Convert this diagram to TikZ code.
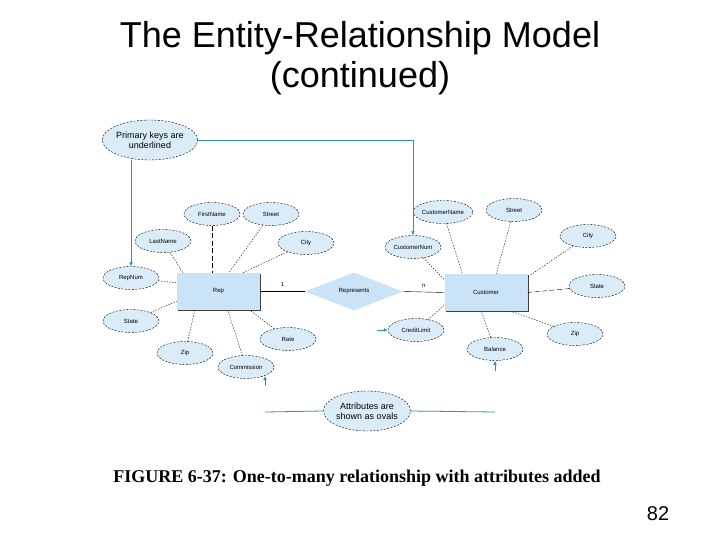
\documentclass[tikz,border=0pt]{standalone}
\usepackage{fontspec}
\setmainfont{Liberation Sans}
\newfontfamily\capfont{Liberation Serif}
\usepackage{tikz}
\usetikzlibrary{shapes.geometric,arrows.meta,shadows}
\definecolor{ovalblue}{RGB}{219,236,249}
\definecolor{boxblue}{RGB}{203,227,246}
\definecolor{noteteal}{RGB}{38,148,190}
\tikzstyle{link} = [thin, dash pattern=on 1.4pt off 1.4pt]
\tikzstyle{longlink} = [thin, dash pattern=on 5pt off 2.5pt]

\begin{document}
\begin{tikzpicture}
  [
    x=1pt, y=-1pt,
    attr/.style={ellipse, draw, dash pattern=on 2pt off 1.5pt, fill=ovalblue, minimum width=56pt, minimum height=23pt, inner sep=0pt, font=\fontsize{6}{7}\selectfont},
    entity/.style={rectangle, fill=boxblue, minimum width=83pt, minimum height=37pt, font=\fontsize{6}{7}\selectfont, drop shadow={shadow xshift=1pt, shadow yshift=-1pt, fill=black!75, opacity=1}},
    rel/.style={diamond, fill=boxblue, aspect=2.6, minimum width=98pt, minimum height=38pt, inner sep=0pt, font=\fontsize{6}{7}\selectfont},
    note/.style={ellipse, draw, dash pattern=on 2pt off 1.5pt, fill=ovalblue, minimum width=86pt, minimum height=40pt, inner sep=0pt, align=center, font=\fontsize{9}{10}\selectfont},
    note link/.style={noteteal, thick, -{Latex[length=4pt,width=4pt]}},
    card/.style={font=\fontsize{6}{7}\selectfont},
  ]
  \useasboundingbox (0,0) rectangle (720,540);

  % title and caption
  \node (title) at (360,38) {\fontsize{36}{40}\selectfont The Entity-Relationship Model};
  \node (title2) at (360,78) {\fontsize{36}{40}\selectfont (continued)};
  \node (caption) at (357,478) {\capfont\bfseries\fontsize{18}{20}\selectfont FIGURE 6-37: One-to-many relationship with attributes added};
  \node (page) at (658,514) {\fontsize{20}{22}\selectfont 82};

  % entities and relationship
  \node [entity] (rep) at (218.5,291.5) {Rep};
  \node [entity] (cust) at (486,292.5) {Customer};
  \node [rel] (repr) at (354,291.5) {Represents};
  \draw [thin] (rep.east) -- node [card, above=1pt] {1} (repr.west);
  \draw [thin] (repr.east) -- node [card, above=1pt] {n} (cust.west);

  % Rep attributes
  \node [attr] (repfirst) at (212,214) {FirstName};
  \node [attr] (repstreet) at (271,214) {Street};
  \node [attr] (repcity) at (306,243) {City};
  \node [attr] (replast) at (163,241) {LastName};
  \node [attr] (repnum) at (131,278) {RepNum};
  \node [attr] (repstate) at (131,321) {State};
  \node [attr] (repzip) at (185,353) {Zip};
  \node [attr] (repcomm) at (246,367) {Commission};
  \node [attr] (reprate) at (288,339) {Rate};

  \draw [longlink] (repfirst) -- (repfirst |- rep.north);
  \draw [link] (repstreet) -- ([xshift=52pt]rep.north west);
  \draw [link] (repcity) -- ([xshift=66pt]rep.north west);
  \draw [link] (replast) -- ([xshift=6pt]rep.north west);
  \draw [link] (repnum) -- ([yshift=-10pt]rep.north west);
  \draw [link] (repstate) -- ([yshift=9pt]rep.south west);
  \draw [link] (repzip) -- ([xshift=18pt]rep.south west);
  \draw [link] (repcomm) -- ([xshift=51pt]rep.south west);
  \draw [link] (reprate) -- ([xshift=73pt]rep.south west);

  % Customer attributes
  \node [attr] (custname) at (443,212) {CustomerName};
  \node [attr] (custstreet) at (514,210) {Street};
  \node [attr] (custcity) at (588,236) {City};
  \node [attr] (custnum) at (413,247) {CustomerNum};
  \node [attr] (custstate) at (597,286) {State};
  \node [attr] (custzip) at (575,334) {Zip};
  \node [attr] (custcredit) at (416,330) {CreditLimit};
  \node [attr] (custbal) at (495,349) {Balance};

  \draw [link] (custname) -- ([xshift=18pt]cust.north west);
  \draw [link] (custstreet) -- ([xshift=52pt]cust.north west);
  \draw [link] (custcity) -- ([yshift=-3pt]cust.north east);
  \draw [link] (custnum) -- ([yshift=-6pt]cust.north west);
  \draw [longlink] (custstate) -- (cust.east);
  \draw [link] (custzip) -- ([xshift=-17pt]cust.south east);
  \draw [link] (custcredit) -- ([yshift=6pt]cust.south west);
  \draw [link] (custbal) -- ([xshift=37pt]cust.south west);

  % notes
  \node [note] (keys) at (150,140) {Primary keys are\\underlined};
  \node [note] (ovals) at (367,411) {Attributes are\\shown as ovals};
  \coordinate (ovleft) at (265,412);
  \coordinate (ovright) at (495,412);
  \coordinate (tipcomm) at (265,386);
  \coordinate (tipbal) at (495,371);
  \coordinate (tipcredit) at (377,330);

  \draw [note link] (keys.east) -| (custnum.north);
  \draw [note link] (keys.south -| repnum.north) -- (repnum.north);
  \draw [noteteal, thick] (ovals.west) -- (ovleft);
  \draw [noteteal, thick] (ovals.east) -- (ovright);
  \draw [note link] (tipcomm) -- (265,376);
  \draw [note link] (tipbal) -- (custbal.south);
  \draw [note link] (tipcredit) -- (custcredit.west);
\end{tikzpicture}
\end{document}
